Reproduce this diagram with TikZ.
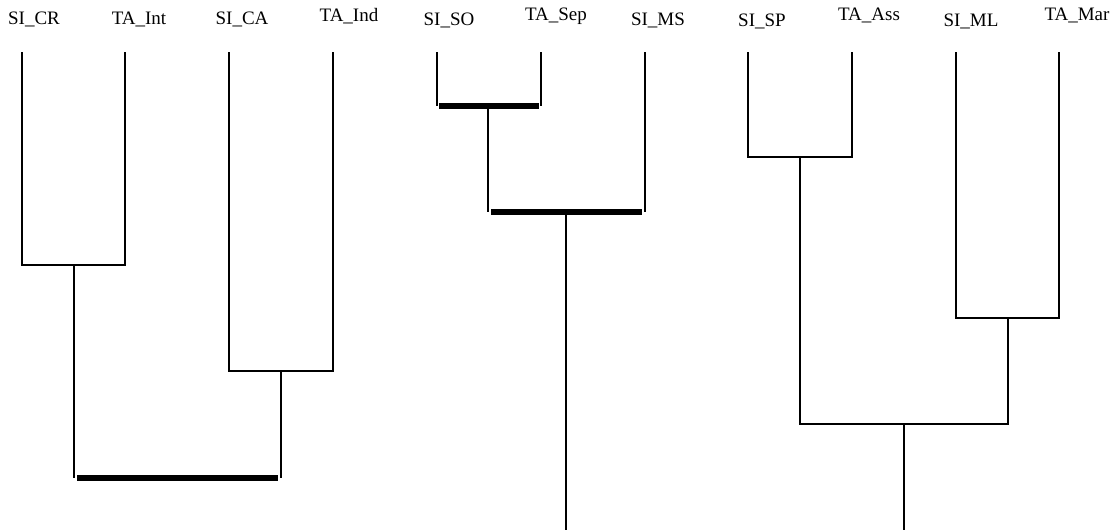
\documentclass[tikz,border=0pt]{standalone}
\usepackage{fontspec}
\setmainfont{Liberation Serif}
\begin{document}
\begin{tikzpicture}[x=1pt,y=-1pt,
  lbl/.style={font=\fontsize{19}{22}\selectfont, anchor=base, inner sep=0pt},
  link/.style={line width=1.1pt, black},
  bar/.style={line width=6pt, black}]
\useasboundingbox (0,0) rectangle (1115,530);
% labels
\node[lbl] (lCR)  at (34,24)   {SI\_CR};
\node[lbl] (lInt) at (139,24)  {TA\_Int};
\node[lbl] (lCA)  at (242,24)  {SI\_CA};
\node[lbl] (lInd) at (349,21)  {TA\_Ind};
\node[lbl] (lSO)  at (449,25)  {SI\_SO};
\node[lbl] (lSep) at (556,20)  {TA\_Sep};
\node[lbl] (lMS)  at (658,25)  {SI\_MS};
\node[lbl] (lSP)  at (762,26)  {SI\_SP};
\node[lbl] (lAss) at (869,20)  {TA\_Ass};
\node[lbl] (lML)  at (971,26)  {SI\_ML};
\node[lbl] (lMar) at (1077,20) {TA\_Mar};
% leaf tops
\coordinate (tCR)  at (22,52);
\coordinate (tInt) at (125,52);
\coordinate (tCA)  at (229,52);
\coordinate (tInd) at (333,52);
\coordinate (tSO)  at (437,52);
\coordinate (tSep) at (541,52);
\coordinate (tMS)  at (645,52);
\coordinate (tSP)  at (748,52);
\coordinate (tAss) at (852,52);
\coordinate (tML)  at (956,52);
\coordinate (tMar) at (1059,52);
% tree 1
\coordinate (m1) at (74,265);
\coordinate (m2) at (281,371);
\coordinate (b1L) at (74,478);
\coordinate (b1R) at (281,478);
\draw[link] (tCR) |- (m1) -| (tInt);
\draw[link] (tCA) |- (m2) -| (tInd);
\draw[link] (m1) -- (b1L);
\draw[link] (m2) -- (b1R);
\draw[bar] ([xshift=3pt]b1L) -- ([xshift=-3pt]b1R);
% tree 2
\coordinate (b2L) at (437,106);
\coordinate (b2R) at (541,106);
\coordinate (m3) at (488,106);
\coordinate (b3L) at (488,212);
\coordinate (b3R) at (645,212);
\coordinate (r2) at (566,212);
\coordinate (r2e) at (566,530);
\draw[link] (tSO) -- (b2L);
\draw[link] (tSep) -- (b2R);
\draw[bar] ([xshift=2pt]b2L) -- ([xshift=-2pt]b2R);
\draw[link] (m3) -- (b3L);
\draw[link] (tMS) -- (b3R);
\draw[bar] ([xshift=3pt]b3L) -- ([xshift=-3pt]b3R);
\draw[link] (r2) -- (r2e);
% tree 3
\coordinate (m5) at (800,157);
\coordinate (m6) at (1008,318);
\coordinate (m7) at (904,424);
\coordinate (r3e) at (904,530);
\draw[link] (tSP) |- (m5) -| (tAss);
\draw[link] (tML) |- (m6) -| (tMar);
\draw[link] (m5) |- (m7) -| (m6);
\draw[link] (m7) -- (r3e);
\end{tikzpicture}
\end{document}
